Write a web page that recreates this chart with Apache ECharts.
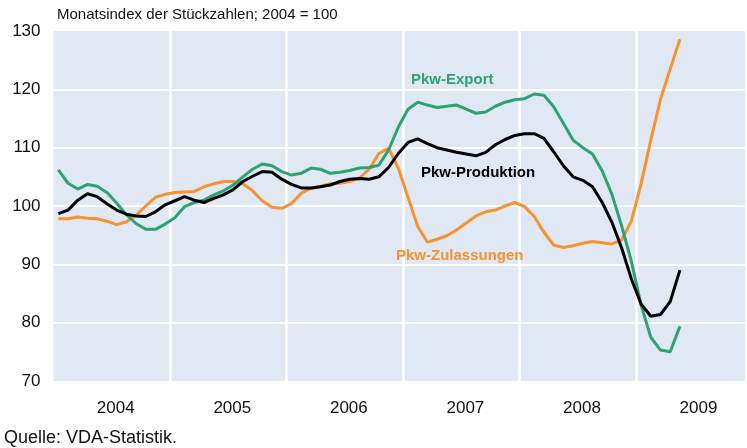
<!DOCTYPE html>
<html>
<head>
<meta charset="utf-8">
<script src="https://cdn.jsdelivr.net/npm/echarts@6/dist/echarts.min.js"></script>
<style>
html,body{margin:0;padding:0;background:#fff;}
#c{width:747px;height:448px;}
</style>
</head>
<body>
<div id="c"></div>
<script>
// Monthly data Jan 2004 .. May 2009 (index 2004 = 100)
const years = ['2004', '2005', '2006', '2007', '2008', '2009'];
const yTicks = [70, 80, 90, 100, 110, 120, 130];

const pkwExport = [
  106.2, 103.9, 102.9, 103.7, 103.4, 102.3, 100.5, 98.5, 97.0, 96.0, 96.0, 96.9,
  98.0, 99.9, 100.6, 101.0, 101.9, 102.6, 103.6, 105.0, 106.3, 107.2, 106.9, 105.9,
  105.3, 105.6, 106.5, 106.3, 105.6, 105.8, 106.1, 106.5, 106.6, 107.0, 109.6, 113.5,
  116.6, 117.8, 117.3, 116.9, 117.1, 117.3, 116.6, 115.9, 116.1, 117.1, 117.8, 118.2,
  118.4, 119.2, 119.0, 117.0, 114.2, 111.3, 110.0, 108.9, 106.0, 102.0, 96.6, 90.5,
  83.0, 77.5, 75.3, 75.0, 79.4
];
const pkwProduktion = [
  98.7, 99.3, 101.0, 102.1, 101.6, 100.4, 99.3, 98.6, 98.3, 98.2, 99.0, 100.2,
  100.9, 101.6, 101.0, 100.6, 101.3, 101.9, 102.8, 104.2, 105.1, 105.9, 105.8, 104.6,
  103.7, 103.1, 103.1, 103.3, 103.6, 104.2, 104.6, 104.7, 104.6, 105.0, 106.6, 109.0,
  110.9, 111.5, 110.7, 110.0, 109.6, 109.2, 108.9, 108.6, 109.2, 110.5, 111.4, 112.1,
  112.4, 112.4, 111.6, 109.3, 106.9, 105.0, 104.4, 103.3, 100.6, 97.2, 92.8, 87.5,
  83.2, 81.1, 81.4, 83.6, 89.0
];
const pkwZulassungen = [
  97.8, 97.8, 98.1, 97.9, 97.8, 97.4, 96.8, 97.3, 98.4, 100.0, 101.5, 102.0,
  102.3, 102.4, 102.5, 103.3, 103.8, 104.2, 104.2, 103.8, 102.6, 100.9, 99.8, 99.6,
  100.4, 102.2, 103.0, 103.4, 103.8, 103.9, 104.2, 104.8, 106.3, 109.0, 109.9, 106.5,
  101.5, 96.5, 93.8, 94.3, 94.9, 95.9, 97.1, 98.3, 99.0, 99.3, 100.0, 100.6,
  99.9, 98.2, 95.5, 93.3, 92.9, 93.2, 93.6, 93.9, 93.7, 93.5, 94.2, 97.4,
  103.8, 111.3, 118.3, 123.5, 128.6
];

// x = months since Jan 2004, each point at mid-month
const toPts = arr => arr.map((v, i) => [i + 0.5, v]);

const chart = echarts.init(document.getElementById('c'), null, {renderer: 'canvas'});
const FONT = '"Liberation Sans", Arial, Helvetica, sans-serif';
const GREEN = '#2ea271';
const ORANGE = '#f7922f';
const XMAX = 71.2;

chart.setOption({
  animation: false,
  backgroundColor: '#ffffff',
  grid: {
    left: 53.5, right: 2, top: 31, bottom: 67,
    show: true, backgroundColor: '#e0e8f3', borderWidth: 0
  },
  xAxis: [
    {
      type: 'value', min: 0, max: XMAX, interval: 12,
      axisLine: {show: false}, axisTick: {show: false}, axisLabel: {show: false},
      splitLine: {show: true, showMinLine: false, showMaxLine: false,
        lineStyle: {color: '#ffffff', width: 2.5}}
    },
    {
      type: 'value', min: 0, max: XMAX, interval: 6, position: 'bottom',
      axisLine: {show: false}, axisTick: {show: false}, splitLine: {show: false},
      axisLabel: {
        show: true, margin: 19, color: '#111', fontSize: 17, fontFamily: FONT,
        padding: [0, 0, 0, 8], showMinLabel: false, showMaxLabel: false,
        formatter: function (v) {
          const r = Math.round(v);
          if (Math.abs(v - r) < 1e-6 && r % 12 === 6) {
            return years[(r - 6) / 12];
          }
          return '';
        }
      }
    }
  ],
  yAxis: {
    type: 'value', min: yTicks[0], max: yTicks[yTicks.length - 1], interval: 10,
    axisLine: {show: false}, axisTick: {show: false},
    axisLabel: {color: '#111', fontSize: 17, fontFamily: FONT, margin: 13},
    splitLine: {show: true, showMinLine: false, showMaxLine: false,
      lineStyle: {color: '#ffffff', width: 2}}
  },
  series: [
    {
      name: 'Pkw-Zulassungen', type: 'line', xAxisIndex: 0, data: toPts(pkwZulassungen),
      showSymbol: false, symbol: 'none', lineStyle: {color: ORANGE, width: 3},
      itemStyle: {color: ORANGE}, z: 3
    },
    {
      name: 'Pkw-Export', type: 'line', xAxisIndex: 0, data: toPts(pkwExport),
      showSymbol: false, symbol: 'none', lineStyle: {color: GREEN, width: 3},
      itemStyle: {color: GREEN}, z: 4
    },
    {
      name: 'Pkw-Produktion', type: 'line', xAxisIndex: 0, data: toPts(pkwProduktion),
      showSymbol: false, symbol: 'none', lineStyle: {color: '#000000', width: 3},
      itemStyle: {color: '#000'}, z: 5
    }
  ],
  graphic: [
    {type: 'text', left: 57, top: 7, style: {text: 'Monatsindex der Stückzahlen; 2004 = 100',
      font: '15px ' + FONT, fill: '#111'}},
    {type: 'text', left: 4, top: 429, style: {text: 'Quelle: VDA-Statistik.',
      font: '18px ' + FONT, fill: '#111'}},
    {type: 'text', left: 411, top: 72, z: 10, style: {text: 'Pkw-Export',
      font: 'bold 15px ' + FONT, fill: GREEN}},
    {type: 'text', left: 421, top: 165, z: 10, style: {text: 'Pkw-Produktion',
      font: 'bold 15px ' + FONT, fill: '#000'}},
    {type: 'text', left: 396, top: 248, z: 10, style: {text: 'Pkw-Zulassungen',
      font: 'bold 15px ' + FONT, fill: ORANGE}}
  ]
});
</script>
</body>
</html>
